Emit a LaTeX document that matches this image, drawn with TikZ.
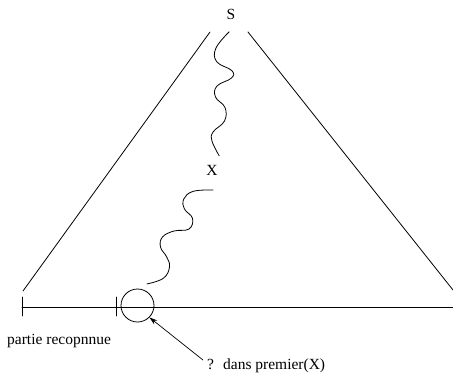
\documentclass[tikz,border=0pt]{standalone}
\usepackage{fontspec}
\setmainfont{Liberation Serif}
\usetikzlibrary{arrows.meta}
\begin{document}
\begin{tikzpicture}[x=1pt,y=-1pt,
  ln/.style={line width=0.8pt, line cap=round},
  lbl/.style={font=\fontsize{15.5}{18}\selectfont, inner sep=0pt}]
\useasboundingbox (0,0) rectangle (453,376);
% labels
\node[lbl] (S) at (231,14) {S};
\node[lbl] (X) at (212,170) {X};
\node[lbl, anchor=west] (lab1) at (7,341) {partie recopnnue};
\node[lbl, anchor=west] (lab2) at (207,366) {?~ dans premier(X)};
% triangle
\coordinate (tl) at (210,32);
\coordinate (bl) at (23,291);
\coordinate (tr) at (248,32);
\coordinate (br) at (453,290);
\draw[ln] (tl) -- (bl);
\draw[ln] (tr) -- (br);
% base line
\coordinate (a) at (22,307);
\coordinate (b) at (453,307);
\draw[ln] (a) -- (b);
\draw[ln] (22,297) -- (22,316);
\draw[ln] (116,297) -- (116,316);
% circle
\node[draw, circle, line width=0.8pt, minimum size=33pt, inner sep=0pt] (c) at (137.5,305.5) {};
% arrow
\coordinate (ae) at (203,360);
\draw[line width=0.7pt, -{Stealth[length=8pt,width=5pt]}] (ae) -- (c.-45);
% wavy lines
\draw[ln, line cap=butt] plot[smooth, tension=0.7] coordinates {(229.3,31.7) (216,48) (216.7,61.7) (231.7,70.5) (231.5,78) (217,86) (215.5,97) (225,107.5) (224.5,121) (213.3,131.7) (212,141) (219.3,156)};
\draw[ln, line cap=butt] plot[smooth, tension=0.7] coordinates {(213.3,190) (193.3,191.3) (183.8,199) (184.5,209) (192.5,218.3) (189,229) (174,231) (162.5,237) (160.5,247) (166.7,257) (169.5,267) (163.3,278.3) (146.7,284)};
\end{tikzpicture}
\end{document}
